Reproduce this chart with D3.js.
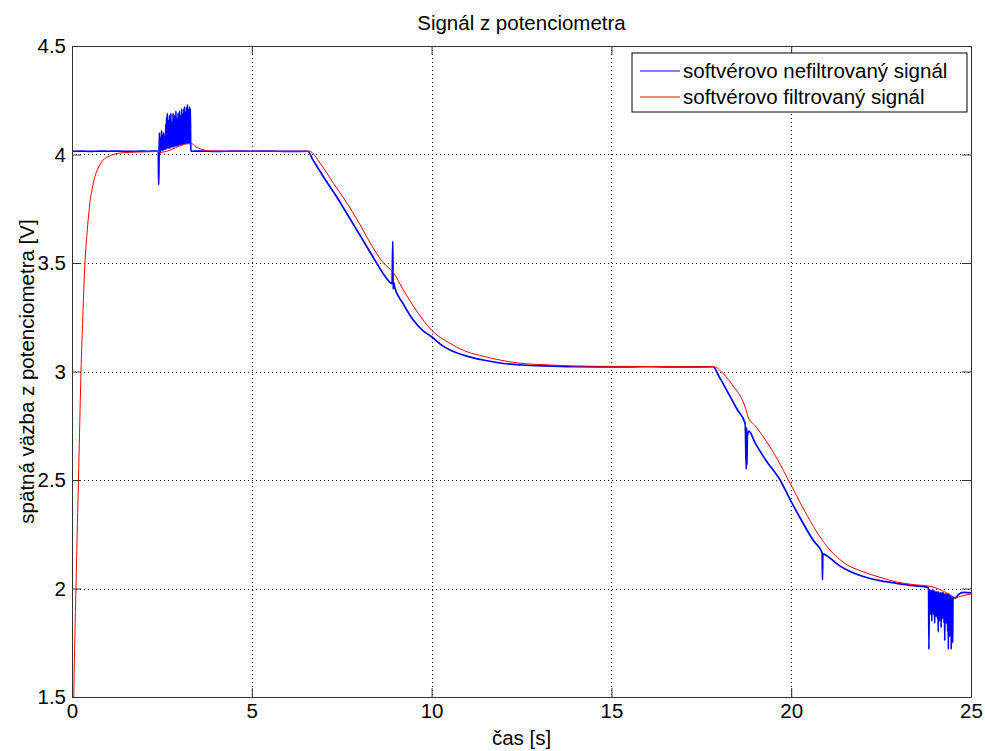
<!DOCTYPE html>
<html>
<head>
<meta charset="utf-8">
<title>Signál z potenciometra</title>
<script src="https://d3js.org/d3.v7.min.js"></script>
<style>
  body { margin: 0; background: #fff; }
  svg { display: block; font-family: "Liberation Sans", Arial, sans-serif; }
</style>
</head>
<body>
<svg id="chart" width="985" height="751"></svg>
<script>
// ---- data ----
var xTicks = [0, 5, 10, 15, 20, 25];
var yTicks = [1.5, 2, 2.5, 3, 3.5, 4, 4.5];
var seriesNames = ["softvérovo nefiltrovaný signál", "softvérovo filtrovaný signál"];
var seriesColors = ["#0000ff", "#ff0000"];

// unfiltered signal [time s, voltage V]
var rawStart = [
  [0, 4.015], [0.3, 4.016], [0.5, 4.014], [0.8, 4.016], [1.0, 4.015], [1.3, 4.016],
  [1.6, 4.014], [1.9, 4.016], [2.1, 4.015], [2.38, 4.016], [2.40, 4.01], [2.41, 3.86],
  [2.42, 3.96]
];
// oscillation burst around t = 2.4 .. 3.3 s
var rawBurst1 = [
  [2.43, 4.10], [2.44, 4.00], [2.45, 4.05], [2.46, 4.01], [2.47, 4.08], [2.48, 4.02],
  [2.49, 4.11], [2.50, 4.02], [2.51, 4.06], [2.52, 4.02], [2.53, 4.09], [2.54, 4.02],
  [2.55, 4.10], [2.56, 4.025], [2.57, 4.07], [2.58, 4.025], [2.59, 4.09], [2.60, 4.025],
  [2.61, 4.14], [2.62, 4.025], [2.63, 4.17], [2.64, 4.03], [2.65, 4.19], [2.66, 4.03],
  [2.67, 4.12], [2.68, 4.03], [2.69, 4.16], [2.70, 4.03], [2.71, 4.18], [2.72, 4.03],
  [2.73, 4.14], [2.74, 4.03], [2.75, 4.19], [2.76, 4.035], [2.77, 4.15], [2.78, 4.035],
  [2.79, 4.13], [2.80, 4.035], [2.81, 4.19], [2.82, 4.035], [2.83, 4.16], [2.84, 4.035],
  [2.85, 4.18], [2.86, 4.04], [2.87, 4.14], [2.88, 4.04], [2.89, 4.20], [2.90, 4.04],
  [2.91, 4.17], [2.92, 4.04], [2.93, 4.15], [2.94, 4.04], [2.95, 4.19], [2.96, 4.04],
  [2.97, 4.17], [2.98, 4.045], [2.99, 4.20], [3.00, 4.045], [3.01, 4.16], [3.02, 4.045],
  [3.03, 4.18], [3.04, 4.045], [3.05, 4.21], [3.06, 4.045], [3.07, 4.17], [3.08, 4.045],
  [3.09, 4.19], [3.10, 4.05], [3.11, 4.21], [3.12, 4.05], [3.13, 4.22], [3.14, 4.05],
  [3.15, 4.18], [3.16, 4.05], [3.17, 4.20], [3.18, 4.05], [3.19, 4.22], [3.20, 4.05],
  [3.21, 4.23], [3.22, 4.05], [3.23, 4.20], [3.24, 4.05], [3.25, 4.21], [3.26, 4.05],
  [3.27, 4.22], [3.28, 4.05], [3.29, 4.21], [3.30, 4.05]
];
var rawMiddle = [
  [3.31, 4.015], [3.6, 4.016], [4.0, 4.014], [4.5, 4.016], [5.0, 4.015], [5.5, 4.016],
  [6.0, 4.014], [6.56, 4.015], [6.7, 3.975], [6.85, 3.935], [7.0, 3.895], [7.2, 3.845],
  [7.36, 3.805], [7.6, 3.74], [7.8, 3.685], [8.0, 3.63], [8.2, 3.575], [8.47, 3.50],
  [8.7, 3.44], [8.9, 3.405], [8.92, 3.60], [8.93, 3.38], [8.95, 3.41], [8.97, 3.39],
  [9.2, 3.315], [9.49, 3.237], [9.75, 3.19], [10.0, 3.16], [10.25, 3.125], [10.5, 3.10],
  [10.75, 3.083], [11.0, 3.07], [11.44, 3.053], [12.0, 3.037], [12.5, 3.03], [13.3, 3.025],
  [14.0, 3.022], [15.0, 3.021], [16.0, 3.022], [17.0, 3.021], [17.83, 3.022],
  [18.0, 2.975], [18.3, 2.885], [18.5, 2.825], [18.72, 2.76], [18.75, 2.55], [18.76, 2.74],
  [18.77, 2.57], [18.78, 2.70], [18.82, 2.725], [19.0, 2.67], [19.3, 2.59], [19.69, 2.50],
  [19.97, 2.41], [20.3, 2.31], [20.62, 2.22], [20.86, 2.165], [20.87, 2.04], [20.88, 2.16],
  [21.08, 2.14], [21.3, 2.11], [21.5, 2.09], [21.75, 2.07], [22.0, 2.055], [22.5, 2.035],
  [22.93, 2.024], [23.4, 2.013], [23.8, 2.005], [23.82, 1.995]
];
// oscillation burst around t = 23.8 .. 24.5 s
var rawBurst2 = [
  [23.83, 1.72], [23.84, 1.995], [23.85, 1.90], [23.86, 1.995], [23.87, 1.88], [23.88, 1.99],
  [23.89, 1.93], [23.90, 1.99], [23.91, 1.85], [23.92, 1.99], [23.93, 1.90], [23.94, 1.99],
  [23.95, 1.88], [23.96, 1.99], [23.97, 1.92], [23.98, 1.99], [23.99, 1.84], [24.00, 1.985],
  [24.01, 1.90], [24.02, 1.985], [24.03, 1.87], [24.04, 1.985], [24.05, 1.91], [24.06, 1.985],
  [24.07, 1.86], [24.08, 1.985], [24.09, 1.80], [24.10, 1.985], [24.11, 1.89], [24.12, 1.98],
  [24.13, 1.85], [24.14, 1.98], [24.15, 1.90], [24.16, 1.98], [24.17, 1.82], [24.18, 1.98],
  [24.19, 1.88], [24.20, 1.98], [24.21, 1.86], [24.22, 1.98], [24.23, 1.91], [24.24, 1.98],
  [24.25, 1.84], [24.26, 1.975], [24.27, 1.76], [24.28, 1.975], [24.29, 1.87], [24.30, 1.975],
  [24.31, 1.84], [24.32, 1.975], [24.33, 1.89], [24.34, 1.975], [24.35, 1.80], [24.36, 1.975],
  [24.37, 1.72], [24.38, 1.975], [24.39, 1.86], [24.40, 1.97], [24.41, 1.78], [24.42, 1.97],
  [24.43, 1.85], [24.44, 1.97], [24.45, 1.72], [24.46, 1.965], [24.47, 1.80], [24.48, 1.965],
  [24.49, 1.75], [24.50, 1.96]
];
var rawEnd = [
  [24.55, 1.955], [24.65, 1.972], [24.8, 1.982], [25.0, 1.98]
];

// filtered signal [time s, voltage V]
var filteredSignal = [
  [0.02, 1.0], [0.05, 1.5], [0.08, 1.78], [0.11, 2.0], [0.15, 2.3], [0.18, 2.5],
  [0.21, 2.72], [0.25, 3.0], [0.30, 3.25], [0.36, 3.5], [0.43, 3.66], [0.5, 3.78],
  [0.57, 3.85], [0.64, 3.9], [0.72, 3.935], [0.8, 3.96], [0.9, 3.98], [1.0, 3.99],
  [1.15, 4.0], [1.3, 4.006], [1.6, 4.01], [2.0, 4.012], [2.42, 4.014], [2.45, 4.01],
  [3.3, 4.052], [3.45, 4.035], [3.6, 4.024], [3.8, 4.017], [4.2, 4.015], [6.6, 4.015],
  [6.9, 3.96], [7.27, 3.867], [7.59, 3.79], [8.0, 3.68], [8.3, 3.59], [8.66, 3.5],
  [8.94, 3.455], [9.2, 3.38], [9.58, 3.28], [10.0, 3.19], [10.51, 3.13], [11.0, 3.09],
  [11.44, 3.07], [12.37, 3.04], [13.3, 3.03], [14.5, 3.024], [17.85, 3.022], [18.11, 2.99],
  [18.4, 2.93], [18.7, 2.845], [18.76, 2.815], [18.8, 2.79], [19.0, 2.75], [19.22, 2.70],
  [19.6, 2.6], [19.97, 2.485], [20.3, 2.38], [20.62, 2.285], [21.08, 2.177], [21.5, 2.115],
  [22.0, 2.077], [22.5, 2.05], [22.93, 2.03], [23.4, 2.018], [23.86, 2.01], [24.2, 1.99],
  [24.45, 1.965], [24.52, 1.952], [24.6, 1.958], [24.8, 1.968], [25.0, 1.975]
];

var rawSignal = rawStart.concat(rawBurst1, rawMiddle, rawBurst2, rawEnd);

// ---- layout ----
var svg = d3.select("#chart");
var plotL = 72, plotR = 971, plotT = 46, plotB = 697;
var fontSize = 20.5;

var x = d3.scaleLinear().domain([0, 25]).range([plotL, plotR]);
var y = d3.scaleLinear().domain([1.5, 4.5]).range([plotB, plotT]);

svg.append("defs").append("clipPath").attr("id", "plotclip")
  .append("rect")
  .attr("x", plotL).attr("y", plotT)
  .attr("width", plotR - plotL).attr("height", plotB - plotT);

// grid (dotted)
var grid = svg.append("g").attr("stroke", "#000").attr("stroke-width", 1)
  .attr("stroke-dasharray", "1,3").attr("shape-rendering", "crispEdges");
grid.selectAll(".gx").data(xTicks.slice(1, -1)).enter().append("line")
  .attr("x1", d => Math.round(x(d)) + 0.5).attr("x2", d => Math.round(x(d)) + 0.5)
  .attr("y1", plotT).attr("y2", plotB);
grid.selectAll(".gy").data(yTicks.slice(1, -1)).enter().append("line")
  .attr("y1", d => Math.round(y(d)) + 0.5).attr("y2", d => Math.round(y(d)) + 0.5)
  .attr("x1", plotL).attr("x2", plotR);

// lines
var line = d3.line().x(d => x(d[0])).y(d => y(d[1])).curve(d3.curveMonotoneX);
var plot = svg.append("g").attr("clip-path", "url(#plotclip)");
plot.append("path").datum(rawSignal)
  .attr("fill", "none").attr("stroke", seriesColors[0]).attr("stroke-width", 1.7)
  .attr("stroke-linejoin", "round").attr("d", line);
plot.append("path").datum(filteredSignal)
  .attr("fill", "none").attr("stroke", seriesColors[1]).attr("stroke-width", 1)
  .attr("stroke-linejoin", "round").attr("d", line);

// axes: box with inward ticks (MATLAB style)
var tickLen = 9;
var axBottom = d3.axisBottom(x).tickValues(xTicks).tickSizeInner(-tickLen).tickSizeOuter(0).tickPadding(6);
var axTop = d3.axisTop(x).tickValues(xTicks).tickSizeInner(-tickLen).tickSizeOuter(0).tickFormat("");
var axLeft = d3.axisLeft(y).tickValues(yTicks).tickSizeInner(-tickLen).tickSizeOuter(0).tickPadding(6).tickFormat(d3.format("~g"));
var axRight = d3.axisRight(y).tickValues(yTicks).tickSizeInner(-tickLen).tickSizeOuter(0).tickFormat("");

function styleAxis(g) {
  g.selectAll("path.domain").attr("stroke", "#333");
  g.selectAll(".tick line").attr("stroke", "#333");
  g.selectAll("text").attr("fill", "#000").style("font-size", fontSize + "px")
    .style("font-family", "'Liberation Sans', Arial, sans-serif");
}
svg.append("g").attr("transform", "translate(0," + plotB + ")").call(axBottom).call(styleAxis);
svg.append("g").attr("transform", "translate(0," + plotT + ")").call(axTop).call(styleAxis);
svg.append("g").attr("transform", "translate(" + plotL + ",0)").call(axLeft).call(styleAxis);
svg.append("g").attr("transform", "translate(" + plotR + ",0)").call(axRight).call(styleAxis);

// title and axis labels
svg.append("text").attr("x", (plotL + plotR) / 2).attr("y", 30)
  .attr("text-anchor", "middle").style("font-size", fontSize + "px")
  .text("Signál z potenciometra");
svg.append("text").attr("x", (plotL + plotR) / 2).attr("y", 745)
  .attr("text-anchor", "middle").style("font-size", fontSize + "px")
  .text("čas [s]");
svg.append("text")
  .attr("transform", "translate(34," + (plotT + plotB) / 2 + ") rotate(-90)")
  .attr("text-anchor", "middle").style("font-size", fontSize + "px")
  .text("spätná väzba z potenciometra [V]");

// legend
var lg = svg.append("g").attr("transform", "translate(632,53)");
lg.append("rect").attr("width", 335).attr("height", 59)
  .attr("fill", "#fff").attr("stroke", "#000").attr("stroke-width", 1);
seriesNames.forEach(function (name, i) {
  var cy = 18 + i * 26;
  lg.append("line").attr("x1", 8).attr("x2", 48).attr("y1", cy).attr("y2", cy)
    .attr("stroke", seriesColors[i]).attr("stroke-width", 1);
  lg.append("text").attr("x", 51).attr("y", cy).attr("dy", "0.35em")
    .style("font-size", fontSize + "px").text(name);
});
</script>
</body>
</html>
